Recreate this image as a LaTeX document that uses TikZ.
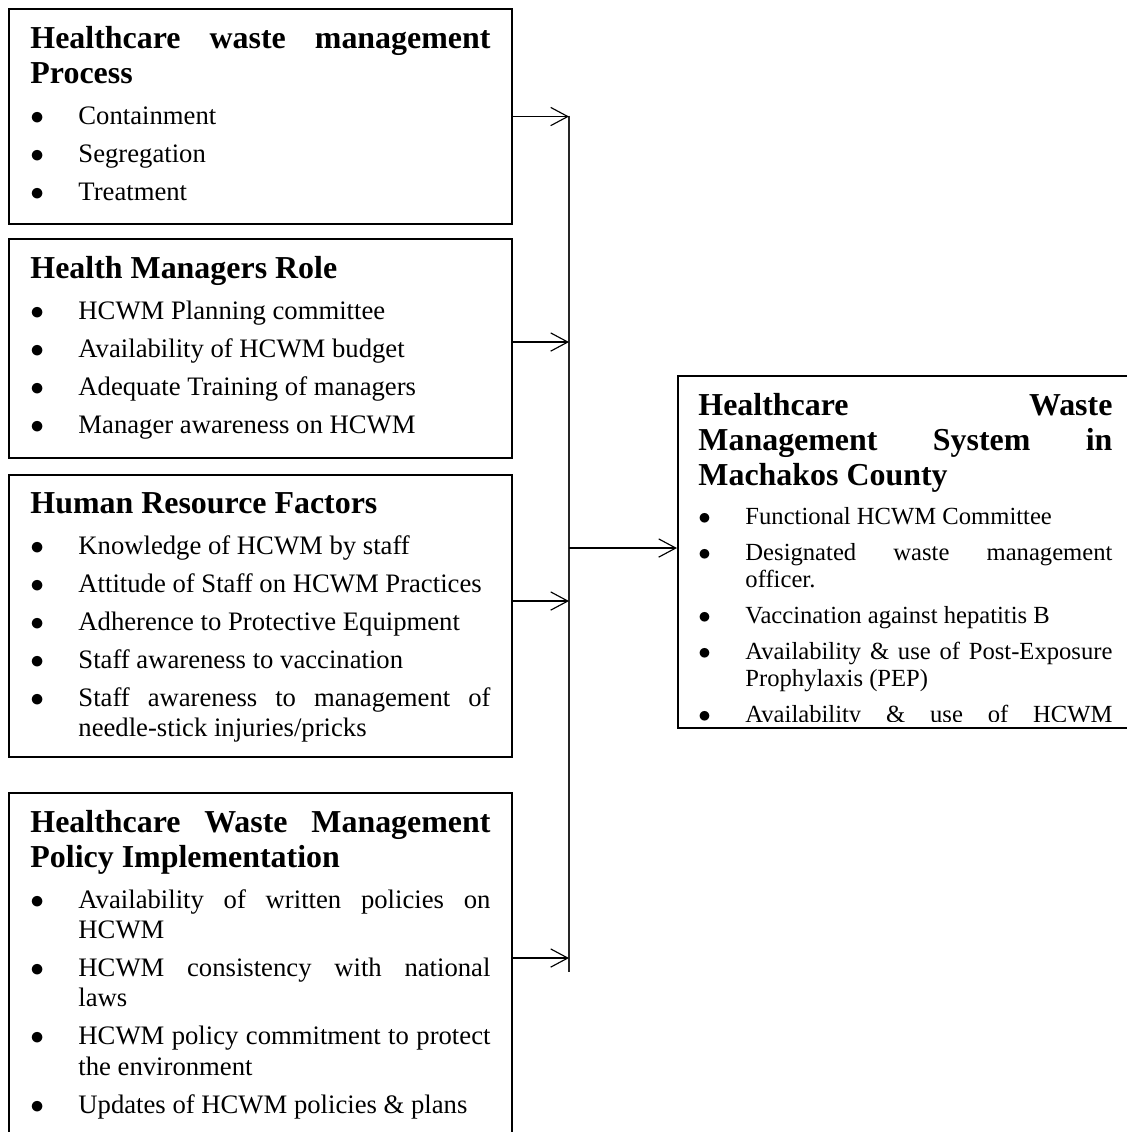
\documentclass[tikz,border=0pt]{standalone}
\usepackage{fontspec}
\setmainfont{Liberation Serif}
\usetikzlibrary{positioning,arrows.meta}

\newlength{\px}
\setlength{\px}{0.4386pt}
\newlength{\itmind}
\newcommand{\hd}[1]{\noindent{\fontsize{14}{15.35}\selectfont\bfseries #1\par}\vspace{1.3pt}}
\newcommand{\itm}[1]{\par\hangindent=\itmind\hangafter=1\noindent\makebox[\itmind][l]{$\bullet$}#1\par}

\begin{document}
\begin{tikzpicture}[
  x=0.4386pt, y=-0.4386pt,
  box/.style={
    draw=black, line width=0.9pt,
    anchor=north west, inner sep=0pt
  },
  txt/.style={
    anchor=north west, inner sep=0pt, align=justify,
    font=\fontsize{11.7}{13.2}\selectfont,
    execute at begin node={\setlength{\parskip}{3.5pt}\setlength{\itmind}{48\px}}
  },
  systxt/.style={
    anchor=north west, inner sep=0pt, align=justify,
    font=\fontsize{10.8}{11.8}\selectfont,
    execute at begin node={\setlength{\parskip}{4pt}\setlength{\itmind}{47\px}}
  },
  bus/.style={black!85, line width=0.6pt},
  arr/.style={-{Straight Barb[length=7.5pt,width=8pt]}, line width=0.5pt}
  ]
  \useasboundingbox (0,0) rectangle (1127,1132);
  \clip (0,0) rectangle (1127,1132);

  % Left boxes
  \node[box, minimum width=503\px, minimum height=215\px] (proc) at (8,8) {};
  \node[txt, text width=460\px] (proc-t) at ([xshift=22\px, yshift=-18\px]proc.north west) {%
    \hd{Healthcare waste management\linebreak Process}
    \itm{Containment}
    \itm{Segregation}
    \itm{Treatment}};

  \node[box, minimum width=503\px, minimum height=219\px] (mgr) at (8,238) {};
  \node[txt, text width=460\px] (mgr-t) at ([xshift=22\px, yshift=-18\px]mgr.north west) {%
    \hd{Health Managers Role}
    \itm{HCWM Planning committee}
    \itm{Availability of HCWM budget}
    \itm{Adequate Training of managers}
    \itm{Manager awareness on HCWM}};

  \node[box, minimum width=503\px, minimum height=282\px] (hrf) at (8,474) {};
  \node[txt, text width=460\px] (hrf-t) at ([xshift=22\px, yshift=-18\px]hrf.north west) {%
    \hd{Human Resource Factors}
    \itm{Knowledge of HCWM by staff}
    \itm{Attitude of Staff on HCWM Practices}
    \itm{Adherence to Protective Equipment}
    \itm{Staff awareness to vaccination}
    \itm{Staff awareness to management of\linebreak needle-stick injuries/pricks}};

  \node[box, minimum width=503\px, minimum height=358\px] (pol) at (8,792) {};
  \node[txt, text width=460\px] (pol-t) at ([xshift=22\px, yshift=-18\px]pol.north west) {%
    \hd{Healthcare Waste Management\linebreak Policy Implementation}
    \itm{Availability of written policies on\linebreak HCWM}
    \itm{HCWM consistency with national\linebreak laws}
    \itm{HCWM policy commitment to protect\linebreak the environment}
    \itm{Updates of HCWM policies \& plans}};

  % Right box
  \node[box, minimum width=457\px, minimum height=352\px] (sys) at (677,375) {};
  \begin{scope}
    \clip (sys.north west) rectangle ([yshift=8\px]sys.south east);
    \node[systxt, text width=414\px] (sys-t) at ([xshift=21\px, yshift=-18\px]sys.north west) {%
      \hd{Healthcare Waste\linebreak Management System in\linebreak Machakos County}
      \itm{Functional HCWM Committee}
      \itm{Designated waste management\linebreak officer.}
      \itm{Vaccination against hepatitis B}
      \itm{Availability \& use of Post-Exposure\linebreak Prophylaxis (PEP)}
      \itm{Availability\hfill\&\hfill use\hfill of\hfill HCWM}};
  \end{scope}

  % Connectors
  \coordinate (busT) at (569,115.5);
  \coordinate (busB) at (569,972);
  \draw[bus] (busT) -- (busB);
  \draw[arr] (proc.east) -- (proc.east -| busT);
  \draw[arr] ([yshift=6.5\px]mgr.east) -- ([yshift=6.5\px]mgr.east -| busT);
  \draw[arr] ([yshift=15\px]hrf.east) -- ([yshift=15\px]hrf.east -| busT);
  \draw[arr] ([yshift=14\px]pol.east) -- ([yshift=14\px]pol.east -| busT);
  \draw[arr] ([yshift=4\px]sys.west -| busT) -- ([yshift=4\px]sys.west);
\end{tikzpicture}
\end{document}
